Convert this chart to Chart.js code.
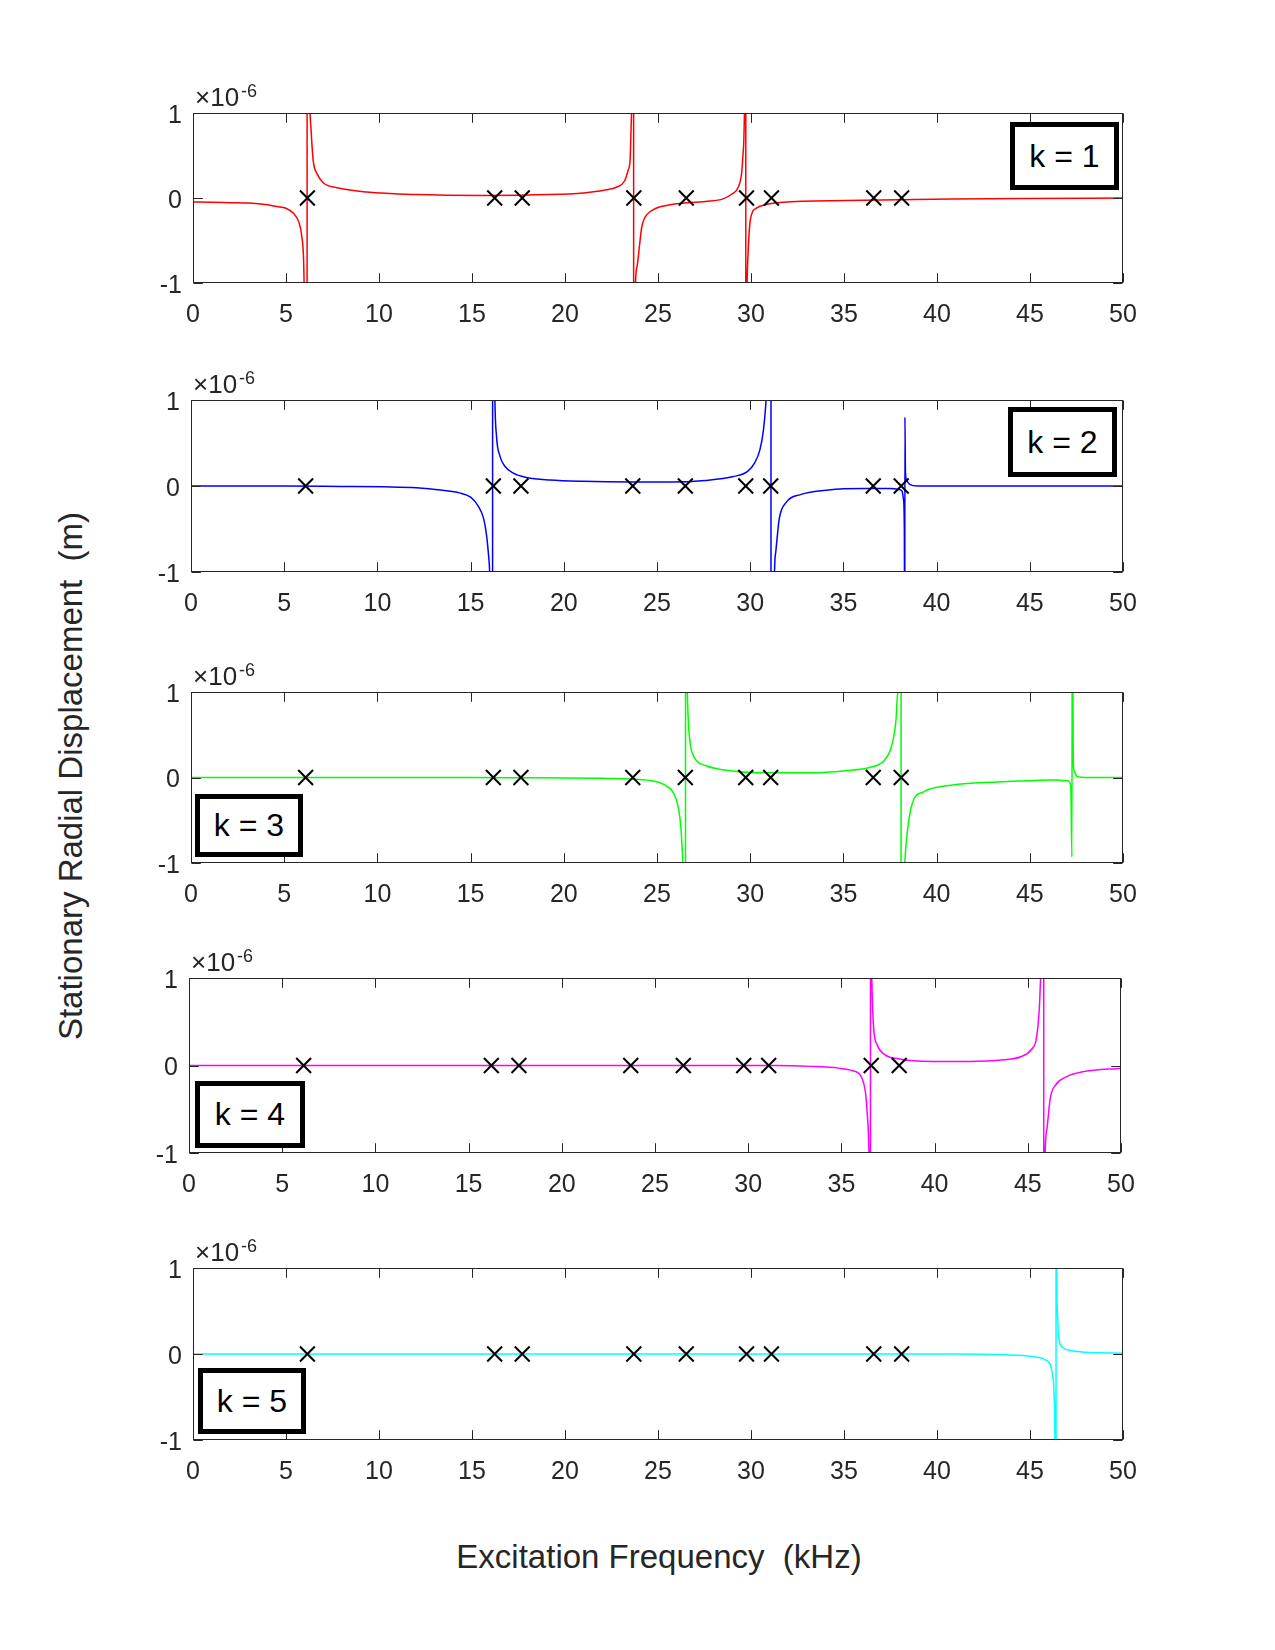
<!DOCTYPE html>
<html>
<head>
<meta charset="utf-8">
<script src="https://cdn.jsdelivr.net/npm/chart.js@4.4.0/dist/chart.umd.min.js"></script>
<style>
  body { margin:0; background:#fff; width:1275px; height:1650px; position:relative; overflow:hidden;
         font-family:"Liberation Sans", Arial, Helvetica, sans-serif; color:#262626; }
  canvas { position:absolute; }
  .kbox { position:absolute; box-sizing:border-box; border:5px solid #000; background:#fff;
          font-size:32px; color:#000; display:flex; align-items:center; justify-content:center; white-space:pre; }
  .exp { position:absolute; white-space:nowrap; color:#262626; }
  .title { position:absolute; font-size:33px; line-height:33px; white-space:pre; color:#262626; }
</style>
</head>
<body>
<script>
// ---------------- data (displacement in units of 1e-6 m, frequency in kHz) ----------------
const freqTicks = [0, 5, 10, 15, 20, 25, 30, 35, 40, 45, 50];
const dispTicks = [-1, 0, 1];

// natural-frequency markers (x) shown in every panel
const markerFreq = [6.15, 16.22, 17.7, 23.7, 26.52, 29.76, 31.1, 36.6, 38.1];
const markerDisp = [0, 0, 0, 0, 0, 0, 0, 0, 0];

const k1Freq = [0,1,2,3,4,4.5,5,5.4,5.7,5.85,5.95,6.0,6.1,6.13,6.14,6.26,6.29,6.35,6.4,6.48,6.66,7.0,7.74,9.35,12,15.6,19.2,21.0,22.1,22.8,23.2,23.4,23.5,23.58,23.64,23.68,23.7,23.75,23.79,23.88,24.01,24.12,24.25,24.73,25.67,27.55,28.5,29.0,29.3,29.5,29.6,29.65,29.69,29.71,29.73,29.76,29.79,29.86,29.97,30.29,30.76,31.7,35.1,40.75,45,50];
const k1Disp = [-0.047,-0.05,-0.055,-0.06,-0.08,-0.1,-0.12,-0.18,-0.29,-0.45,-0.75,-1.3,-6,-40,40,2,1.05,0.8,0.61,0.41,0.29,0.18,0.12,0.07,0.04,0.03,0.04,0.06,0.09,0.13,0.2,0.33,0.45,1.0,3,40,-40,-3,-1.0,-0.8,-0.55,-0.35,-0.25,-0.14,-0.08,-0.04,-0.01,0.05,0.12,0.3,0.6,1.0,5,40,-40,-3,-1.0,-0.57,-0.25,-0.12,-0.08,-0.05,-0.03,-0.012,-0.005,0.0];

const k2Freq = [0,5,8,10.3,12.1,13.5,14.4,15.0,15.4,15.7,15.86,16.0,16.05,16.13,16.17,16.19,16.26,16.3,16.39,16.57,16.84,17.29,18.0,19.25,21.0,23.7,25.7,27.6,29.1,29.86,30.24,30.52,30.71,30.84,30.92,31.05,31.1,31.13,31.22,31.3,31.37,31.56,31.93,32.69,34.19,36.07,37.5,38.0,38.15,38.22,38.27,38.29,38.3,38.33,38.4,38.55,39,45,50];
const k2Disp = [0,0,-0.005,-0.01,-0.02,-0.05,-0.08,-0.13,-0.23,-0.38,-0.58,-0.9,-1.2,-5,-40,40,3,1.05,0.58,0.35,0.23,0.15,0.10,0.07,0.054,0.046,0.046,0.065,0.11,0.17,0.27,0.42,0.65,0.96,1.5,8,40,-40,-5,-1.05,-0.77,-0.38,-0.19,-0.1,-0.046,-0.03,-0.03,-0.04,-0.06,-0.15,-0.5,-3,0.8,0.15,0.06,0.02,0.0,0.0,0.0];

const k3Freq = [0,10,15,18,20,21.96,23.84,24.78,25.44,25.91,26.13,26.28,26.38,26.43,26.5,26.52,26.54,26.58,26.63,26.7,26.81,27.04,27.6,28.54,30.42,33.24,35.12,36.44,37.19,37.57,37.82,37.91,38.0,38.08,38.11,38.2,38.29,38.42,38.7,39.27,40.77,43.59,46.41,47.07,47.2,47.26,47.28,47.33,47.39,47.54,48,50];
const k3Disp = [0,0,0,-0.003,-0.005,-0.01,-0.02,-0.04,-0.09,-0.19,-0.34,-0.58,-0.96,-1.5,-8,-40,40,4,1.0,0.59,0.36,0.22,0.14,0.09,0.055,0.055,0.08,0.12,0.2,0.36,0.67,0.98,2,40,-40,-3,-1.0,-0.65,-0.3,-0.17,-0.09,-0.05,-0.03,-0.04,-0.11,-0.93,3,0.2,0.07,0.01,0.0,0.0];

const k4Freq = [0,20,31.47,33.35,34.85,35.6,36.07,36.31,36.43,36.48,36.52,36.55,36.57,36.6,36.63,36.73,36.91,37.29,38.04,39.92,41.8,43.68,44.62,45.18,45.46,45.61,45.69,45.77,45.84,45.87,45.9,45.93,46.03,46.21,46.5,47.06,48.0,50];
const k4Disp = [0,0,0,-0.01,-0.03,-0.06,-0.13,-0.34,-0.68,-0.98,-3,-40,40,3,1.0,0.43,0.24,0.13,0.076,0.046,0.046,0.065,0.1,0.18,0.31,0.62,1.0,3,40,-40,-3,-1.0,-0.72,-0.37,-0.22,-0.13,-0.07,-0.03];

const k5Freq = [0,20,40.75,43.58,45.09,45.84,46.12,46.25,46.33,46.37,46.39,46.41,46.44,46.47,46.52,46.6,46.8,47.2,48,50];
const k5Disp = [0,0,0,-0.01,-0.03,-0.07,-0.14,-0.29,-0.64,-3,-40,40,1.2,0.5,0.25,0.13,0.07,0.04,0.02,0.01];

const panelLabels = ['k = 1', 'k = 2', 'k = 3', 'k = 4', 'k = 5'];
const seriesColors = ['#ff0000', '#0000ff', '#00ff00', '#ff00ff', '#00ffff'];
const exponentText = ['\u00d710', '-6'];
const xTitle = 'Excitation Frequency  (kHz)';
const yTitle = 'Stationary Radial Displacement  (m)';

// ---------------- layout ----------------
const panels = [
  { l:193, r:1123, t:113, b:283,  freq:k1Freq, disp:k1Disp, box:{l:1010, t:122, w:109, h:68} },
  { l:191, r:1123, t:400, b:572,  freq:k2Freq, disp:k2Disp, box:{l:1008, t:407, w:109, h:70} },
  { l:191, r:1123, t:692, b:863,  freq:k3Freq, disp:k3Disp, box:{l:195,  t:794, w:108, h:63} },
  { l:189, r:1121, t:978, b:1153, freq:k4Freq, disp:k4Disp, box:{l:195,  t:1081, w:110, h:67} },
  { l:193, r:1123, t:1268, b:1440, freq:k5Freq, disp:k5Disp, box:{l:198, t:1368, w:108, h:66} }
];

Chart.defaults.font.family = '"Liberation Sans", Arial, Helvetica, sans-serif';
Chart.defaults.color = '#262626';

const AXIS_COLOR = '#262626';
const TICK_LEN = 9.3;

const framePlugin = {
  id: 'frame',
  afterDatasetsDraw(chart) {
    const { ctx, chartArea: a, scales: { x, y } } = chart;
    ctx.save();
    ctx.strokeStyle = AXIS_COLOR;
    ctx.lineWidth = 1;
    const L = Math.round(a.left) + 0.5, R = Math.round(a.right) - 0.5;
    const T = Math.round(a.top) + 0.5, B = Math.round(a.bottom) - 0.5;
    ctx.beginPath();
    x.ticks.forEach(t => {
      const px = Math.round(x.getPixelForValue(t.value)) + 0.5;
      ctx.moveTo(px, B); ctx.lineTo(px, B - TICK_LEN);
      ctx.moveTo(px, T); ctx.lineTo(px, T + TICK_LEN);
    });
    y.ticks.forEach(t => {
      const py = Math.round(y.getPixelForValue(t.value)) + 0.5;
      ctx.moveTo(L, py); ctx.lineTo(L + TICK_LEN, py);
      ctx.moveTo(R, py); ctx.lineTo(R - TICK_LEN, py);
    });
    ctx.stroke();
    ctx.strokeRect(L, T, R - L, B - T);
    ctx.restore();
  }
};

const PAD_L = 100, PAD_R = 40, PAD_T = 36, AX_H = 62;

panels.forEach((p, i) => {
  const w = p.r - p.l + PAD_L + PAD_R;
  const h = p.b - p.t + PAD_T + AX_H;
  const c = document.createElement('canvas');
  c.width = w; c.height = h;
  c.style.left = (p.l - PAD_L) + 'px';
  c.style.top = (p.t - PAD_T) + 'px';
  c.style.width = w + 'px'; c.style.height = h + 'px';
  document.body.appendChild(c);

  new Chart(c, {
    type: 'scatter',
    data: {
      datasets: [
        {
          data: markerFreq.map((f, j) => ({ x: f, y: markerDisp[j] })),
          pointStyle: 'crossRot', pointRadius: 10.5, pointHoverRadius: 10.5,
          borderColor: '#000000', backgroundColor: '#000000', borderWidth: 2,
          showLine: false, order: 0
        },
        {
          data: p.freq.map((f, j) => ({ x: f, y: p.disp[j] })),
          showLine: true, borderColor: seriesColors[i], backgroundColor: seriesColors[i],
          borderWidth: 1.5, pointRadius: 0, pointHoverRadius: 0,
          cubicInterpolationMode: 'monotone', clip: 0, order: 1
        }
      ]
    },
    options: {
      responsive: false, animation: false, devicePixelRatio: 1,
      events: [],
      layout: { padding: { left: 0, right: PAD_R, top: PAD_T, bottom: 0 } },
      plugins: { legend: { display: false }, tooltip: { enabled: false } },
      scales: {
        x: {
          type: 'linear', min: freqTicks[0], max: freqTicks[freqTicks.length - 1],
          afterBuildTicks: s => { s.ticks = freqTicks.map(v => ({ value: v })); },
          ticks: { font: { size: 25 }, color: AXIS_COLOR, padding: 17, maxRotation: 0, autoSkip: false },
          grid: { display: false, drawTicks: false },
          border: { display: false },
          afterFit: s => { s.height = AX_H; s.paddingLeft = 0; s.paddingRight = 0; }
        },
        y: {
          type: 'linear', min: dispTicks[0], max: dispTicks[dispTicks.length - 1],
          afterBuildTicks: s => { s.ticks = dispTicks.map(v => ({ value: v })); },
          ticks: { font: { size: 25 }, color: AXIS_COLOR, padding: 11, labelOffset: 3 },
          grid: { display: false, drawTicks: false },
          border: { display: false },
          afterFit: s => { s.width = PAD_L; s.paddingTop = 0; s.paddingBottom = 0; }
        }
      }
    },
    plugins: [framePlugin]
  });

  // exponent label  x10^-6
  const e1 = document.createElement('div');
  e1.className = 'exp';
  e1.style.cssText = `left:${p.l + 2}px; top:${p.t - 29}px; font-size:26px; line-height:26px;`;
  e1.textContent = exponentText[0];
  document.body.appendChild(e1);
  const e2 = document.createElement('div');
  e2.className = 'exp';
  e2.style.cssText = `left:${p.l + 48}px; top:${p.t - 31}px; font-size:18px; line-height:18px;`;
  e2.textContent = exponentText[1];
  document.body.appendChild(e2);

  // k label box
  const kb = document.createElement('div');
  kb.className = 'kbox';
  kb.style.cssText = `left:${p.box.l}px; top:${p.box.t}px; width:${p.box.w}px; height:${p.box.h}px;`;
  kb.textContent = panelLabels[i];
  document.body.appendChild(kb);
});

// axis titles
const xt = document.createElement('div');
xt.className = 'title';
xt.style.cssText = 'left:359px; top:1540px; width:600px; text-align:center;';
xt.textContent = xTitle;
document.body.appendChild(xt);

const yt = document.createElement('div');
yt.className = 'title';
yt.style.cssText = 'left:70px; top:776px; transform:translate(-50%,-50%) rotate(-90deg); transform-origin:center center;';
yt.textContent = yTitle;
document.body.appendChild(yt);
</script>
</body>
</html>
